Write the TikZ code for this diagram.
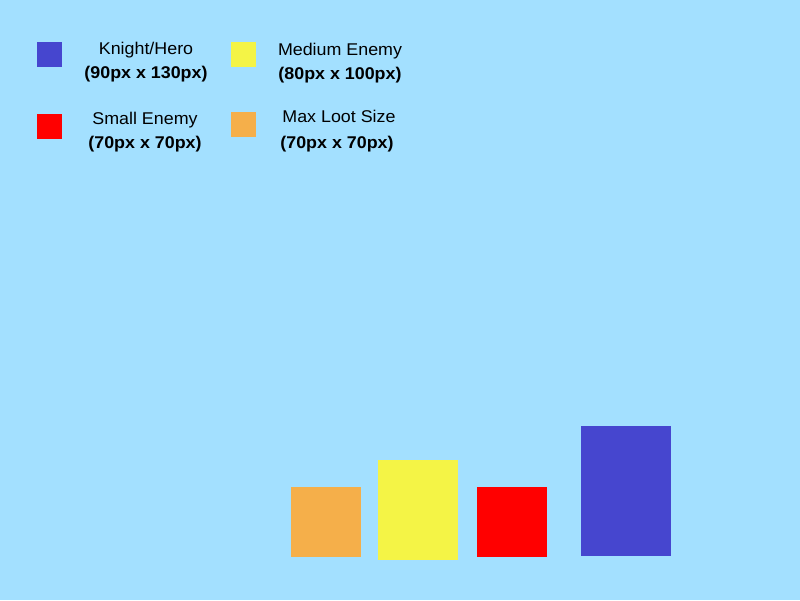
\documentclass[tikz,border=0pt]{standalone}
\usepackage{fontspec}
\setmainfont{Liberation Sans}[FakeStretch=1.05]
\definecolor{bg}{HTML}{A3E0FF}
\definecolor{knight}{HTML}{4646CF}
\definecolor{medium}{HTML}{F4F446}
\definecolor{small}{HTML}{FF0000}
\definecolor{loot}{HTML}{F5AF4A}
\begin{document}
\begin{tikzpicture}[x=1pt,y=-1pt,
  lbl/.style={font=\fontsize{17}{19}\selectfont, inner sep=0pt, anchor=base},
  dim/.style={lbl, font=\fontsize{17}{19}\selectfont\bfseries}]
\fill[bg] (0,0) rectangle (800,600);
\useasboundingbox (0,0) rectangle (800,600);
% legend swatches
\fill[knight] (37,42) rectangle (62,67);
\fill[medium] (231,42) rectangle (256,67);
\fill[small] (37,114) rectangle (62,139);
\fill[loot] (231,112) rectangle (256,137);
% legend texts
\node[lbl] (kn) at (146,54.5) {Knight/Hero};
\node[dim] (knd) at (146,78.5) {(90px x 130px)};
\node[lbl] (me) at (340,55) {Medium Enemy};
\node[dim] (med) at (340,79.5) {(80px x 100px)};
\node[lbl] (se) at (145,124.5) {Small Enemy};
\node[dim] (sed) at (145,148) {(70px x 70px)};
\node[lbl] (ml) at (339,122.5) {Max Loot Size};
\node[dim] (mld) at (337,148) {(70px x 70px)};
% sprites
\fill[loot] (291,487) rectangle (361,557);
\fill[medium] (378,460) rectangle (458,560);
\fill[small] (477,487) rectangle (547,557);
\fill[knight] (581,426) rectangle (671,556);
\end{tikzpicture}
\end{document}
